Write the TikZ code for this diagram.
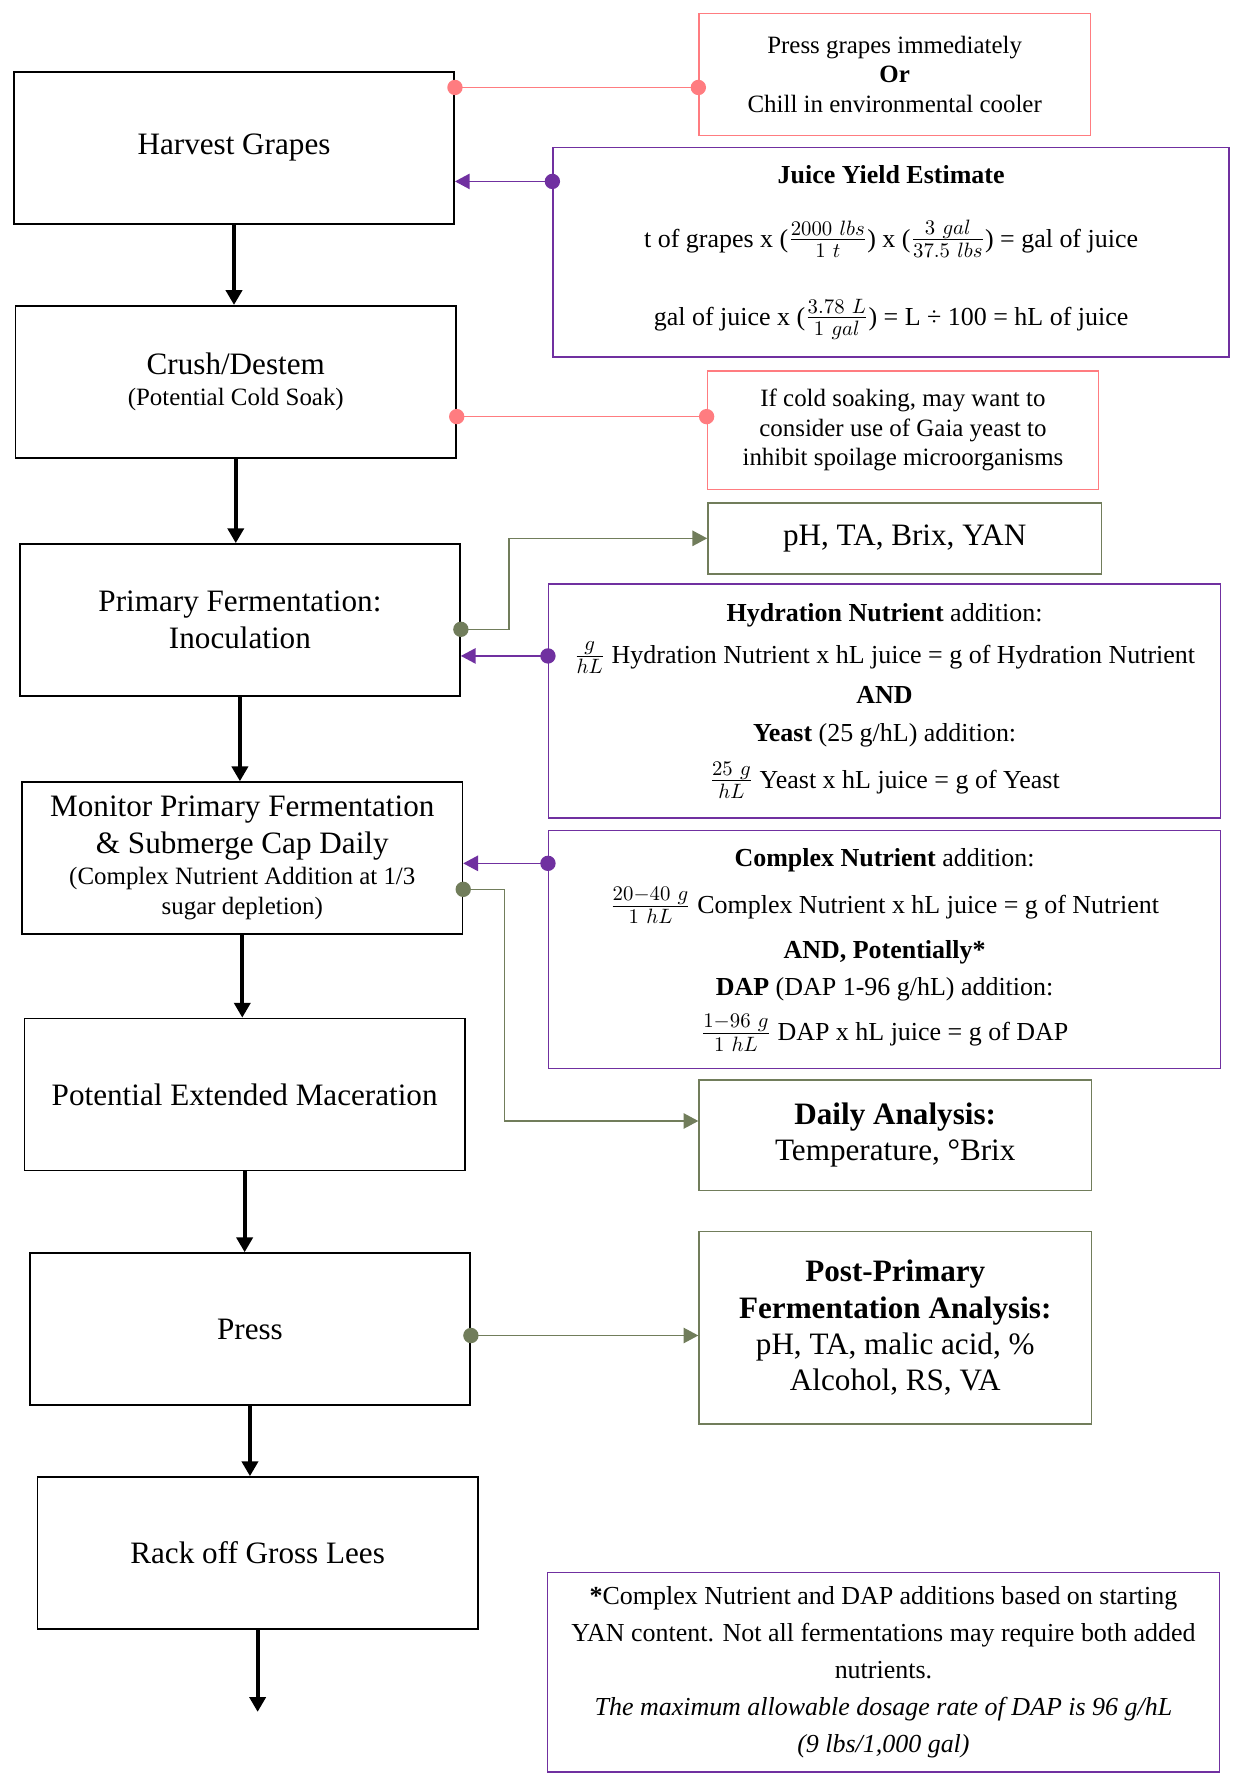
\documentclass[tikz,border=0pt]{standalone}
\usepackage{fontspec}
\setmainfont{Liberation Serif}
\usepackage{color}
\usepackage{tikz}
\usetikzlibrary{arrows.meta}
\definecolor{notepink}{RGB}{255,124,128}
\definecolor{calcpurple}{RGB}{112,48,160}
\definecolor{testgreen}{RGB}{113,125,91}
\newcommand{\unitfrac}[2]{{\fontsize{14}{16}\selectfont$\frac{#1}{#2}$}}

\begin{document}
\begin{tikzpicture}
      \useasboundingbox (0,0) rectangle (21.0,-30.19);
      \tikzstyle {stepbox} = [shape=rectangle, draw=black, line width=0.8pt, minimum width=7.45cm, minimum height=2.57cm, align=center, font=\fontsize{15}{17.5}\selectfont];
      \tikzstyle {notebox} = [shape=rectangle, draw=notepink, line width=0.7pt, minimum width=6.62cm, align=center, font=\fontsize{12}{14.2}\selectfont];
      \tikzstyle {calcbox} = [shape=rectangle, draw=calcpurple, line width=0.7pt, minimum width=11.37cm, align=center, font=\fontsize{12.5}{14.4}\selectfont];
      \tikzstyle {testbox} = [shape=rectangle, draw=testgreen, line width=0.7pt, minimum width=6.64cm, align=center, font=\fontsize{15}{17.5}\selectfont];
      \tikzstyle {flow} = [line width=1.8pt, -{Triangle[length=2.5mm,width=2.7mm]}];
      \tikzstyle {pinkline} = [notepink, line width=0.8pt];
      \tikzstyle {purpleline} = [calcpurple, line width=0.8pt, -{Triangle[length=2.5mm,width=2.6mm]}];
      \tikzstyle {greenline} = [testgreen, line width=0.8pt, -{Triangle[length=2.5mm,width=2.6mm]}];
      \node (harvest) [stepbox] at (3.96,-2.50) {Harvest Grapes};
      \node (crush) [stepbox] at (3.99,-6.46) {Crush/Destem\\[-2.2pt]{\fontsize{12}{14}\selectfont (Potential Cold Soak)}};
      \node (primary) [stepbox] at (4.06,-10.49) {Primary Fermentation:\\Inoculation};
      \node (monitor) [stepbox] at (4.10,-14.52) {Monitor Primary Fermentation\\\& Submerge Cap Daily\\[-2.2pt]{\fontsize{12}{14}\selectfont (Complex Nutrient Addition at 1/3}\\[-3.3pt]{\fontsize{12}{14}\selectfont sugar depletion)}};
      \node (macer) [stepbox] at (4.14,-18.52) {Potential Extended Maceration};
      \node (press) [stepbox] at (4.23,-22.49) {Press};
      \node (rack) [stepbox] at (4.36,-26.28) {Rack off Gross Lees};
      \node (chill) [notebox, minimum height=2.07cm] at (15.14,-1.26) {Press grapes immediately\\\textbf{Or}\\Chill in environmental cooler};
      \node (juice) [calcbox, minimum width=11.44cm, minimum height=3.55cm] at (15.08,-4.27) {\textbf{Juice Yield Estimate}\\[16.5pt]t of grapes x (\unitfrac{2000\ lbs}{1\ t}) x (\unitfrac{3\ gal}{37.5\ lbs}) = gal of juice\\[19pt]gal of juice x (\unitfrac{3.78\ L}{1\ gal}) = L ÷ 100 = hL of juice};
      \node (gaia) [notebox, minimum height=2.01cm] at (15.28,-7.28) {If cold soaking, may want to\\consider use of Gaia yeast to\\inhibit spoilage microorganisms};
      \node (ph) [testbox, minimum width=6.66cm, minimum height=1.20cm] at (15.31,-9.11) {pH, TA, Brix, YAN};
      \node (hydro) [calcbox, minimum height=3.96cm] at (14.97,-11.86) {\textbf{Hydration Nutrient} addition:\\[6pt]\unitfrac{g}{hL} Hydration Nutrient x hL juice = g of Hydration Nutrient\\[5pt]\textbf{AND}\\[4pt]\textbf{Yeast} (25 g/hL) addition:\\[6pt]\unitfrac{25\ g}{hL} Yeast x hL juice = g of Yeast};
      \node (complex) [calcbox, minimum height=4.03cm] at (14.97,-16.07) {\textbf{Complex Nutrient} addition:\\[6.5pt]\unitfrac{20-40\ g}{1\ hL} Complex Nutrient x hL juice = g of Nutrient\\[7.2pt]\textbf{AND, Potentially*}\\[3.5pt]\textbf{DAP} (DAP 1-96 g/hL) addition:\\[5.5pt]\unitfrac{1-96\ g}{1\ hL} DAP x hL juice = g of DAP};
      \node (daily) [testbox, minimum height=1.87cm] at (15.15,-19.21) {\textbf{Daily Analysis:}\\Temperature, °Brix};
      \node (post) [testbox, minimum height=3.26cm] at (15.15,-22.47) {\textbf{Post-Primary}\\\textbf{Fermentation Analysis:}\\pH, TA, malic acid, \%\\Alcohol, RS, VA};
      \node (foot) [calcbox, minimum height=3.38cm, font=\fontsize{12.5}{17.8}\selectfont] at (14.95,-28.30) {\textbf{*}Complex Nutrient and DAP additions based on starting\\YAN content. Not all fermentations may require both added\\nutrients.\\\textit{The maximum allowable dosage rate of DAP is 96 g/hL}\\\textit{(9 lbs/1,000 gal)}};
      \draw [flow] (harvest.south) -- (harvest.south |- crush.north);
      \draw [flow] (crush.south) -- (crush.south |- primary.north);
      \draw [flow] (primary.south) -- (primary.south |- monitor.north);
      \draw [flow] (monitor.south) -- (monitor.south |- macer.north);
      \draw [flow] (macer.south) -- (macer.south |- press.north);
      \draw [flow] (press.south) -- (press.south |- rack.north);
      \coordinate (done) at ([yshift=-1.39cm]rack.south);
      \draw [flow] (rack.south) -- (done);
      \coordinate (hv) at ([yshift=1.02cm]harvest.east);
      \draw [pinkline] (hv) -- (hv -| chill.west);
      \fill [notepink] (hv) circle (1.3mm);
      \fill [notepink] (hv -| chill.west) circle (1.3mm);
      \coordinate (cr) at ([yshift=-0.59cm]crush.east);
      \draw [pinkline] (cr) -- (cr -| gaia.west);
      \fill [notepink] (cr) circle (1.3mm);
      \fill [notepink] (cr -| gaia.west) circle (1.3mm);
      \coordinate (jy) at ([yshift=1.20cm]juice.west);
      \draw [purpleline] (jy) -- (jy -| harvest.east);
      \fill [calcpurple] (jy) circle (1.3mm);
      \coordinate (hy) at ([yshift=0.76cm]hydro.west);
      \draw [purpleline] (hy) -- (hy -| primary.east);
      \fill [calcpurple] (hy) circle (1.3mm);
      \coordinate (cn) at ([yshift=1.46cm]complex.west);
      \draw [purpleline] (cn) -- (cn -| monitor.east);
      \fill [calcpurple] (cn) circle (1.3mm);
      \coordinate (pf) at ([yshift=-0.16cm]primary.east);
      \draw [greenline] (pf) -- ++(0.82,0) |- (ph.west);
      \fill [testgreen] (pf) circle (1.3mm);
      \coordinate (mo) at ([yshift=-0.53cm]monitor.east);
      \draw [greenline] (mo) -- ++(0.70,0) |- ([yshift=0.24cm]daily.west);
      \fill [testgreen] (mo) circle (1.3mm);
      \coordinate (pr) at ([yshift=-0.11cm]press.east);
      \draw [greenline] (pr) -- (pr -| post.west);
      \fill [testgreen] (pr) circle (1.3mm);
\end{tikzpicture}
\end{document}
